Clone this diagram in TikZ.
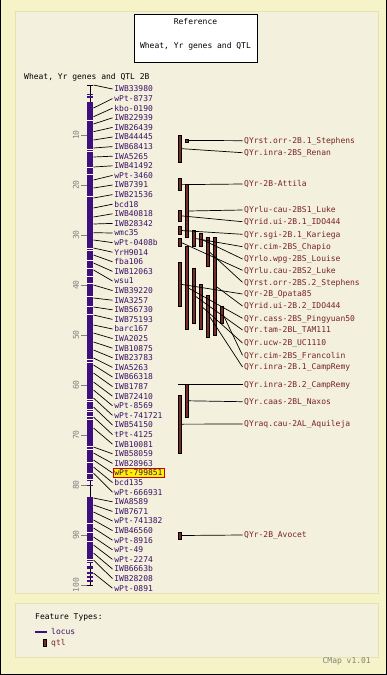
\documentclass[tikz,border=0pt]{standalone}
\usepackage{fontspec}
\newfontfamily\mapfont{DejaVu Sans Mono}
\definecolor{outerbg}{HTML}{F7F3C8}
\definecolor{panelbg}{HTML}{F3F1DE}
\definecolor{panelrule}{HTML}{E6E2AE}
\definecolor{chrom}{HTML}{3F0F80}
\definecolor{locustext}{HTML}{3C1068}
\definecolor{qtlfill}{HTML}{7B2B25}
\definecolor{qtltext}{HTML}{7A2222}
\definecolor{marked}{HTML}{FFF200}
\tikzset{
  maptext/.style={font=\mapfont\fontsize{8}{9}\selectfont, inner sep=1.5pt, text height=5.8pt, text depth=0pt},
  locuslabel/.style={maptext, text=locustext, anchor=west},
  qtllabel/.style={maptext, text=qtltext, anchor=west},
  scalelabel/.style={maptext, text=gray, rotate=90},
  qtlbar/.style={draw=black, fill=qtlfill, line width=0.6pt, minimum width=2.8pt, inner sep=0pt},
  link/.style={black, line width=0.7pt},
  panel/.style={fill=panelbg, draw=panelrule, line width=1pt}
}

\begin{document}
\begin{tikzpicture}[x=1pt,y=-1pt]
    \fill[outerbg] (0,0) rectangle (387,675);
    \useasboundingbox (0,0) rectangle (387,675);
    \draw[black, line width=1.2pt] (0.6,0) -- (0.6,674.4) -- (386.4,674.4) -- (386.4,0);
    \draw[panel] (15,11) rectangle (378,593);
    \draw[panel] (15,603) rectangle (378,657);

    \node[draw=black, fill=white, line width=0.8pt, minimum width=123pt, minimum height=48pt] (refbox) at (195.5,38) {};
    \node[maptext] (reftitle) at (195.5,22) {Reference};
    \node[maptext] (refname) at (195.5,46) {Wheat, Yr genes and QTL};
    \node[maptext, anchor=west] (maptitle) at (22.5,77) {Wheat, Yr genes and QTL 2B};

    % scale
    \foreach \cm in {10,20,...,100} {
        \draw[gray, line width=0.8pt] (81,85+5*\cm) -- (87,85+5*\cm);
        \node[scalelabel] (s\cm) at (76,85+5*\cm) {\cm};
    }

    % chromosome 2B
    \draw[black, line width=1pt] (90,85) -- (90,585);
    \draw[black, line width=1pt] (87,85) -- (93,85);
    \draw[black, line width=1pt] (87,585) -- (93,585);
    \foreach \top/\bot in {93.5/95, 96/97.5, 102/480.5, 484.5/486, 497/562.5, 566/568.5, 572/573.5, 576/577.5, 580/581.5}
        \fill[chrom] (87,\top) rectangle (93,\bot);
    \foreach \y in {120,149,151.5,167,174,196,248,250.5,260,268,276,283,296,306.5,314,359,362,399,401.5,409,411.5,416,419,446,449,462,473,479,523,532,541,559,561}
        \draw[white, line width=0.9pt] (87,\y) -- (93,\y);

    % loci
    \foreach \name/\ypos [count=\i from 0] in {IWB33980/85, wPt-8737/108, kbo-0190/116.7, IWB22939/124, IWB26439/131.7,
        IWB44445/140, IWB68413/148, IWA5265/157, IWB41492/167, wPt-3460/180, IWB7391/188, IWB21536/198, bcd18/208,
        IWB40818/217, IWB28342/224, wmc35/232.7, wPt-0408b/240, YrH9014/248, fba106/255, IWB12063/263, wsu1/270,
        IWB39220/285, IWA3257/298, IWB56730/307, IWB75193/315, barc167/325, IWA2025/333, IWB10875/342, IWB23783/350,
        IWA5263/358, IWB66318/365, IWB1787/373, IWB72410/382, wPt-8569/390, wPt-741721/398, IWB54150/407,
        tPt-4125/417, IWB10081/428, IWB58059/447, IWB28963/453, wPt-799851/460, bcd135/467, wPt-666931/473,
        IWA8589/498, IWB7671/505, wPt-741382/512, IWB46560/520, wPt-8916/528, wPt-49/537, wPt-2274/545,
        IWB6663b/553, IWB28208/560, wPt-0891/573} {
        \ifnum\i=40 \def\fillc{marked}\def\drawc{red!80!black}\else\def\fillc{none}\def\drawc{none}\fi
        \coordinate (b\i) at (93.5,\ypos);
        \node[locuslabel, fill=\fillc, draw=\drawc, line width=0.8pt] (l\i) at (112.5,89+9.6*\i) {\name};
        \draw[link] (b\i) -- (l\i.west);
    }

    % qtl
    \foreach \col/\top/\bot/\ly/\name [count=\i] in {1/138.5/142.3/140.7/QYrst.orr-2B.1\_Stephens,
        0/135/162.3/152.7/QYr.inra-2BS\_Renan, 0/178.3/191/184/QYr-2B-Attila,
        1/184.3/237.7/210/QYrlu-cau-2BS1\_Luke, 0/210/221.7/221.7/QYrid.ui-2B.1\_IDO444,
        0/226/235/234.3/QYr.sgi-2B.1\_Kariega, 2/230.3/246.7/246.7/QYr.cim-2BS\_Chapio,
        3/232.7/246.7/259/QYrlo.wpg-2BS\_Louise, 0/238.3/246.7/270.3/QYrlu.cau-2BS2\_Luke,
        4/237/266.7/282.3/QYrst.orr-2BS.2\_Stephens, 0/262/306.7/294/QYr-2B\_Opata85,
        5/237/336/306/QYrid.ui-2B.2\_IDO444, 1/246/330/318.3/QYr.cass-2BS\_Pingyuan50,
        2/268.3/324/330/QYr.tam-2BL\_TAM111, 3/284/330/343/QYr.ucw-2B\_UC1110,
        6/306/324/355.3/QYr.cim-2BS\_Francolin, 4/295/337.3/367/QYr.inra-2B.1\_CampRemy,
        1/384.3/417.3/401.7/QYr.caas-2BL\_Naxos, 0/395/453.3/424/QYraq.cau-2AL\_Aquileja,
        0/531.7/539.3/535/QYr-2B\_Avocet} {
        \pgfmathsetmacro\h{\bot-\top-0.6}
        \node[qtlbar, minimum height=\h pt] (q\i) at ({179.6+7*\col},{(\top+\bot)/2}) {};
        \node[qtllabel] (ql\i) at (242.5,\ly) {\name};
    }
    \foreach \i in {1,...,20}
        \draw[link] (q\i.east) -- (ql\i.west);
    \coordinate (q0) at (178,384.3);
    \node[qtllabel] (ql0) at (242.5,384.3) {QYr.inra-2B.2\_CampRemy};
    \draw[link] (q0) -- (ql0.west);

    % legend
    \node[maptext, anchor=west] (ftypes) at (33.5,617) {Feature Types:};
    \draw[chrom, line width=1.2pt] (35,632) -- (47,632);
    \node[locuslabel] (leglocus) at (49.5,632) {locus};
    \node[qtlbar, minimum height=7.5pt] (legqtl) at (44.5,643) {};
    \node[qtllabel] (legqtltext) at (49.5,643) {qtl};
    \node[maptext, text=gray, anchor=east] (version) at (372.5,661) {CMap v1.01};
\end{tikzpicture}
\end{document}
